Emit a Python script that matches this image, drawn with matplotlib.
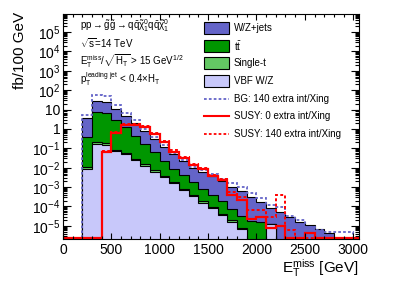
import numpy as np
import matplotlib
matplotlib.use('Agg')
import matplotlib.pyplot as plt
from matplotlib.patches import Rectangle
from matplotlib.lines import Line2D
from matplotlib.ticker import FixedLocator, LogLocator, MultipleLocator, NullFormatter

plt.rcParams['font.family'] = ['Liberation Sans', 'DejaVu Sans']
plt.rcParams['mathtext.fontset'] = 'custom'
plt.rcParams['mathtext.rm'] = 'Liberation Sans'
plt.rcParams['mathtext.it'] = 'Liberation Sans'
plt.rcParams['mathtext.default'] = 'regular'

# 100 GeV bins, 0 - 3100 GeV
edges = np.arange(0, 3200, 100)

vbf = [0, 0, 8.9e-3, 0.16, 0.155, 0.07, 0.05, 0.024, 0.0125, 6.3e-3, 3.2e-3,
       1.6e-3, 7.1e-4, 3.5e-4, 1.6e-4, 7.9e-5, 3.5e-5, 1.6e-5, 7e-6, 0, 0,
       1.2e-5, 0, 0, 0, 0, 0, 0, 0, 0, 0]
single_t = [0, 0, 1.5e-3, 0.04, 0.035, 0.015, 0.01, 5e-3, 2.5e-3, 1.2e-3, 6e-4,
            3e-4, 1.2e-4, 6e-5, 3e-5, 1.4e-5, 6e-6, 3e-6, 1.2e-6, 0, 0,
            0, 0, 0, 0, 0, 0, 0, 0, 0, 0]
ttbar = [0, 0, 0.39, 6.9, 6.1, 2.7, 1.2, 0.42, 0.143, 0.055, 0.0186,
         6.9e-3, 3.15e-3, 1.5e-3, 6.0e-4, 3.1e-4, 1.4e-4, 5.2e-5, 2.3e-5, 1.7e-5, 1.6e-5,
         0, 0, 0, 0, 0, 0, 0, 0, 0, 0]
wzjets = [0, 0, 3.15, 21, 18.8, 8.4, 3.3, 1.55, 0.60, 0.25, 0.098,
          0.044, 0.018, 8.1e-3, 5.2e-3, 3.15e-3, 1.9e-3, 1.0e-3, 5.7e-4, 2.85e-4, 1.6e-4,
          7.6e-5, 5.5e-5, 2.8e-5, 1.66e-5, 1.12e-5, 6.8e-6, 4.2e-6, 0, 0, 0]
bg140 = [0, 0, 5.0, 58, 50, 18, 7.0, 3.0, 0.95, 0.40, 0.15,
         0.06, 0.026, 0.0115, 7.5e-3, 4.5e-3, 2.7e-3, 1.6e-3, 1.0e-3, 5e-4, 2.8e-4,
         1.26e-4, 8.9e-5, 3.2e-5, 2e-5, 8.9e-6, 6.3e-6, 5e-6, 5e-6, 5e-6, 0]
susy0 = [0, 0, 0, 0, 0.063, 0.63, 1.66, 1.66, 1.3, 0.55, 0.2,
         0.068, 0.03, 0.013, 9e-3, 3.8e-3, 2.4e-3, 4e-4, 2.2e-4, 2.2e-5, 3e-5,
         7.9e-6, 9.3e-6, 0, 0, 4.2e-6, 0, 0, 0, 0, 0]
susy140 = [0, 0, 0, 0, 0.07, 0.7, 1.8, 1.8, 1.45, 0.62, 0.23,
           0.078, 0.034, 0.015, 0.01, 4.3e-3, 2.7e-3, 5.6e-4, 3.2e-4, 6.6e-5, 6.6e-5,
           2.8e-5, 4e-4, 6.3e-6, 0, 0, 0, 0, 0, 0, 0]

c_wz = '#6464c8'
c_tt = '#009600'
c_st = '#64c864'
c_vbf = '#c8c8fa'
c_red = '#ff0000'

ymin, ymax = 2.1e-6, 8.5e5
floor = 2.35e-6

fig = plt.figure(figsize=(3.99, 2.86), dpi=100)
ax = fig.add_axes([63/399, 1-239/286, (359-63)/399, (239-14)/286])

s_vbf = np.array(vbf)
s_st = s_vbf + np.array(single_t)
s_tt = s_st + np.array(ttbar)
s_wz = s_tt + np.array(wzjets)

for vals, col in [(s_wz, c_wz), (s_tt, c_tt), (s_st, c_st), (s_vbf, c_vbf)]:
    v = np.where(vals > 0, vals, 1e-9)
    ax.stairs(v, edges, baseline=1e-9, fill=True, facecolor=col,
              edgecolor='black', lw=0.8)

def atfloor(v):
    v = np.array(v, dtype=float)
    return np.where(v > 0, v, floor)

ax.stairs(atfloor(bg140)[2:30], edges[2:31], baseline=floor, color=c_wz,
          lw=1.3, ls=(0, (1.5, 1.2)))
ax.stairs(atfloor(susy0), edges, baseline=None, color=c_red, lw=1.6)
ax.stairs(atfloor(susy140), edges, baseline=None, color=c_red, lw=1.4,
          ls=(0, (1.5, 1.2)))

ax.set_yscale('log')
ax.set_ylim(ymin, ymax)
ax.set_xlim(0, 3060)

ax.yaxis.set_major_locator(FixedLocator([10.0**k for k in range(-5, 6)]))
ylabs = ['$10^{%d}$' % k for k in range(-5, 0)] + ['1', '10'] + ['$10^{%d}$' % k for k in range(2, 6)]
ax.set_yticklabels(ylabs)
ax.yaxis.set_minor_locator(LogLocator(base=10, subs=np.arange(2, 10), numticks=60))
ax.yaxis.set_minor_formatter(NullFormatter())
ax.xaxis.set_major_locator(MultipleLocator(500))
ax.xaxis.set_minor_locator(MultipleLocator(100))

ax.tick_params(which='both', direction='in', top=True, right=True, labelsize=10, width=0.8)
ax.tick_params(axis='x', which='major', length=4.5, pad=3)
ax.tick_params(axis='x', which='minor', length=2.3)
ax.tick_params(axis='y', which='major', length=6, pad=2)
ax.tick_params(axis='y', which='minor', length=3)
for sp in ax.spines.values():
    sp.set_linewidth(0.8)

fig.text(20/399, 1-12/286, 'fb/100 GeV', rotation=90, ha='center', va='top', fontsize=11)
fig.text(359/399, 1-268/286, r'$E_T^{miss}$ [GeV]', ha='right', va='center', fontsize=11)

ann = [(r'pp$\rightarrow\tilde{g}\tilde{g}\rightarrow q\bar{q}\tilde{\chi}^0_1 q\bar{q}\tilde{\chi}^0_1$', 29),
       (r'$\sqrt{s}$=14 TeV', 48),
       (r'$E_T^{miss}/\sqrt{H_T}$ > 15 GeV$^{1/2}$', 65),
       (r'$p_T^{leading\ jet}$ < 0.4$\times H_T$', 83)]
for txt, yb in ann:
    fig.text(80/399, 1-yb/286, txt, ha='left', va='baseline', fontsize=7)

legend = [('W/Z+jets', 'box', c_wz, '-'),
          (r't$\bar{t}$', 'box', c_tt, '-'),
          ('Single-t', 'box', c_st, '-'),
          ('VBF W/Z', 'box', c_vbf, '-'),
          ('BG: 140 extra int/Xing', 'line', c_wz, (0, (1.5, 1.2))),
          ('SUSY: 0 extra int/Xing', 'line', c_red, '-'),
          ('SUSY: 140 extra int/Xing', 'line', c_red, (0, (1.5, 1.2)))]
for j, (lab, kind, col, ls) in enumerate(legend):
    yc = 28 + j*17.7
    if kind == 'box':
        fig.patches.append(Rectangle((204/399, 1-(yc+6)/286), 25/399, 12/286,
                                     transform=fig.transFigure, facecolor=col,
                                     edgecolor='black', lw=0.8))
    else:
        fig.lines.append(Line2D([204/399, 229/399], [1-yc/286, 1-yc/286],
                                transform=fig.transFigure, color=col,
                                lw=1.5 if ls == '-' else 1.3, ls=ls))
    fig.text(234/399, 1-yc/286, lab, ha='left', va='center', fontsize=7)

fig.savefig('out.png', dpi=100)
